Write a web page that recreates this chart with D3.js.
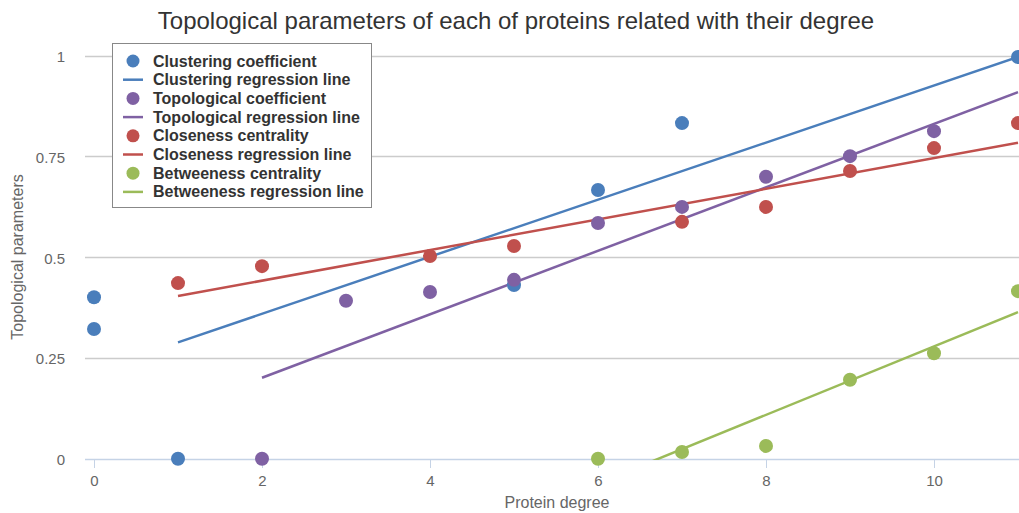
<!DOCTYPE html>
<html>
<head>
<meta charset="utf-8">
<script src="https://d3js.org/d3.v7.min.js"></script>
<style>
  body { margin: 0; background: #fff; }
  text { font-family: "Liberation Sans", Arial, sans-serif; }
</style>
</head>
<body>
<svg width="1019" height="513"></svg>
<script>
// data
var clusteringPts = [[0, 0.404], [0, 0.325], [1, 0.003], [5, 0.434], [6, 0.67], [7, 0.836], [11, 1.0]];
var clusteringLine = [[1, 0.292], [11, 1.0]];
var topologicalPts = [[2, 0.003], [3, 0.395], [4, 0.417], [5, 0.447], [6, 0.588], [7, 0.628], [8, 0.703], [9, 0.754], [10, 0.816]];
var topologicalLine = [[2, 0.204], [11, 0.913]];
var closenessPts = [[1, 0.439], [2, 0.481], [4, 0.506], [5, 0.531], [7, 0.591], [8, 0.628], [9, 0.717], [10, 0.774], [11, 0.836]];
var closenessLine = [[1, 0.407], [11, 0.787]];
var betweenessPts = [[6, 0.003], [7, 0.02], [8, 0.035], [9, 0.199], [10, 0.265], [11, 0.419]];
var betweenessLine = [[6, -0.058], [11, 0.367]];

var xTicks = [0, 2, 4, 6, 8, 10];
var yTicks = [0, 0.25, 0.5, 0.75, 1];

var series = [
  {name: "Clustering", pts: clusteringPts, line: clusteringLine, color: "#4a7ebb",
   ptLabel: "Clustering coefficient", lineLabel: "Clustering regression line"},
  {name: "Topological", pts: topologicalPts, line: topologicalLine, color: "#7f61a3",
   ptLabel: "Topological coefficient", lineLabel: "Topological regression line"},
  {name: "Closeness", pts: closenessPts, line: closenessLine, color: "#c0504d",
   ptLabel: "Closeness centrality", lineLabel: "Closeness regression line"},
  {name: "Betweeness", pts: betweenessPts, line: betweenessLine, color: "#9bbb59",
   ptLabel: "Betweeness centrality", lineLabel: "Betweeness regression line"}
];

var svg = d3.select("svg"),
  width = 1019, height = 513;

var x = d3.scaleLinear().domain([0, 11]).range([94, 1018]);
var y = d3.scaleLinear().domain([0, 1]).range([460, 57]);

var plotLeft = 85, plotRight = 1019, plotTop = 40, plotBottom = 459;

// title
svg.append("text")
  .attr("x", 516).attr("y", 29)
  .attr("text-anchor", "middle")
  .style("font-size", "24px")
  .style("fill", "#333")
  .text("Topological parameters of each of proteins related with their degree");

// gridlines
var gy = function(d) { return Math.floor(y(d)) - 0.5; };
svg.append("g").selectAll("line")
  .data(yTicks)
  .enter().append("line")
  .attr("x1", plotLeft).attr("x2", plotRight)
  .attr("y1", gy)
  .attr("y2", gy)
  .attr("stroke", function(d) { return d === 0 ? "#c5d3e6" : "#cccccc"; })
  .attr("stroke-width", 1.5);

// y tick labels
svg.append("g").selectAll("text")
  .data(yTicks)
  .enter().append("text")
  .attr("x", 65)
  .attr("y", function(d) { return y(d) + 5; })
  .attr("text-anchor", "end")
  .style("font-size", "15px")
  .style("fill", "#666")
  .text(function(d) { return d; });

// x ticks
var xt = svg.append("g").selectAll("g")
  .data(xTicks)
  .enter().append("g")
  .attr("transform", function(d) { return "translate(" + (Math.round(x(d)) + 0.5) + ",0)"; });
xt.append("line")
  .attr("y1", plotBottom).attr("y2", plotBottom + 9)
  .attr("stroke", "#c5d3e6").attr("stroke-width", 1);
xt.append("text")
  .attr("y", 486)
  .attr("text-anchor", "middle")
  .style("font-size", "15px")
  .style("fill", "#666")
  .text(function(d) { return d; });

// axis titles
svg.append("text")
  .attr("x", 557).attr("y", 508)
  .attr("text-anchor", "middle")
  .style("font-size", "16px")
  .style("fill", "#666")
  .text("Protein degree");

svg.append("text")
  .attr("transform", "translate(23,257) rotate(-90)")
  .attr("text-anchor", "middle")
  .style("font-size", "16px")
  .style("fill", "#666")
  .text("Topological parameters");

// regression lines and points
svg.append("defs").append("clipPath").attr("id", "lineclip")
  .append("rect")
  .attr("x", plotLeft).attr("y", plotTop - 20)
  .attr("width", plotRight - plotLeft).attr("height", plotBottom - plotTop + 21);

var plot = svg.append("g");
var lineGen = d3.line()
  .x(function(d) { return x(d[0]); })
  .y(function(d) { return y(d[1]); });

plot.selectAll("path.reg")
  .data(series)
  .enter().append("path")
  .attr("class", "reg")
  .attr("clip-path", "url(#lineclip)")
  .attr("d", function(d) { return lineGen(d.line); })
  .attr("fill", "none")
  .attr("stroke", function(d) { return d.color; })
  .attr("stroke-width", 2.5);

series.forEach(function(s) {
  plot.append("g").selectAll("circle")
    .data(s.pts)
    .enter().append("circle")
    .attr("cx", function(d) { return x(d[0]); })
    .attr("cy", function(d) { return y(d[1]); })
    .attr("r", 7)
    .attr("fill", s.color);
});

// legend
var legend = svg.append("g");
legend.append("rect")
  .attr("x", 112.5).attr("y", 43.5)
  .attr("width", 259).attr("height", 164)
  .attr("fill", "#fff")
  .attr("stroke", "#888").attr("stroke-width", 1);

var legendItems = [];
series.forEach(function(s) {
  legendItems.push({type: "pt", color: s.color, label: s.ptLabel});
  legendItems.push({type: "line", color: s.color, label: s.lineLabel});
});

var li = legend.selectAll("g.item")
  .data(legendItems)
  .enter().append("g")
  .attr("class", "item")
  .attr("transform", function(d, i) { return "translate(0," + (61 + i * 18.7) + ")"; });

li.filter(function(d) { return d.type === "pt"; })
  .append("circle")
  .attr("cx", 133).attr("cy", 0).attr("r", 6.5)
  .attr("fill", function(d) { return d.color; });

li.filter(function(d) { return d.type === "line"; })
  .append("line")
  .attr("x1", 123).attr("x2", 143)
  .attr("y1", 0).attr("y2", 0)
  .attr("stroke", function(d) { return d.color; })
  .attr("stroke-width", 2.5);

li.append("text")
  .attr("x", 153).attr("y", 5.5)
  .style("font-size", "16px")
  .style("font-weight", "bold")
  .style("fill", "#333")
  .text(function(d) { return d.label; });
</script>
</body>
</html>
